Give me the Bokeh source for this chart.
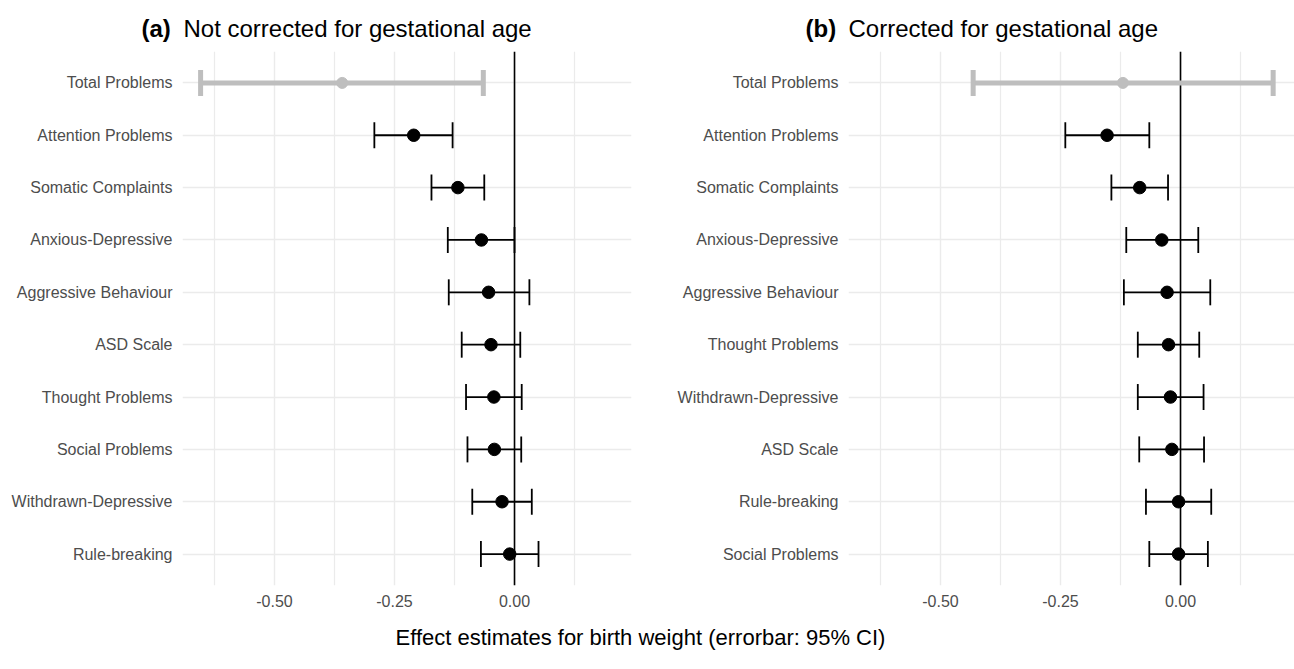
from bokeh.plotting import figure
from bokeh.models import (ColumnDataSource, FactorRange, Range1d, Span, Whisker, TeeHead,
                          FixedTicker, NumeralTickFormatter, Label)
from bokeh.layouts import row, column
from bokeh.embed import file_html
from bokeh.resources import INLINE

FONT = "Liberation Sans"

# ---------------- data ----------------
cats_a = ["Total Problems", "Attention Problems", "Somatic Complaints", "Anxious-Depressive",
          "Aggressive Behaviour", "ASD Scale", "Thought Problems", "Social Problems",
          "Withdrawn-Depressive", "Rule-breaking"]
est_a = [-0.359, -0.210, -0.118, -0.069, -0.054, -0.049, -0.043, -0.042, -0.026, -0.010]
lo_a = [-0.654, -0.292, -0.173, -0.139, -0.137, -0.110, -0.101, -0.098, -0.088, -0.070]
hi_a = [-0.065, -0.129, -0.063, 0.000, 0.031, 0.012, 0.015, 0.014, 0.036, 0.050]

cats_b = ["Total Problems", "Attention Problems", "Somatic Complaints", "Anxious-Depressive",
          "Aggressive Behaviour", "Thought Problems", "Withdrawn-Depressive", "ASD Scale",
          "Rule-breaking", "Social Problems"]
est_b = [-0.120, -0.153, -0.085, -0.039, -0.028, -0.025, -0.021, -0.018, -0.004, -0.004]
lo_b = [-0.432, -0.240, -0.144, -0.113, -0.118, -0.089, -0.089, -0.086, -0.072, -0.065]
hi_b = [0.193, -0.065, -0.026, 0.037, 0.062, 0.039, 0.048, 0.049, 0.064, 0.057]

highlight = "Total Problems"
x_ticks = [-0.5, -0.25, 0.0]
x_minor = [-0.625, -0.375, -0.125, 0.125]

tag_a, title_a = "(a)", "Not corrected for gestational age"
tag_b, title_b = "(b)", "Corrected for gestational age"
x_title = "Effect estimates for birth weight (errorbar: 95% CI)"

GREY_TXT = "#4d4d4d"
GRID = "#ebebeb"
HL = "#bebebe"

W, H = 1294, 669
TOP_H = 44
FRAME_H = 534
BORDER_TOP = 7
BORDER_BOTTOM = 30
BOTTOM_H = H - TOP_H - (BORDER_TOP + FRAME_H + BORDER_BOTTOM)
X0 = -0.6917
PX_PER_UNIT = 480.0


def split(cats, est, lo, hi, keep):
    d = dict(cat=[], est=[], lo=[], hi=[])
    for c, e, l, h in zip(cats, est, lo, hi):
        if (c == highlight) == keep:
            d["cat"].append(c); d["est"].append(e); d["lo"].append(l); d["hi"].append(h)
    return ColumnDataSource(d)


def panel(cats, est, lo, hi, width, b_left, b_right, frame_w):
    x1 = X0 + frame_w / PX_PER_UNIT
    p = figure(width=width, height=BORDER_TOP + FRAME_H + BORDER_BOTTOM, title=None,
               y_range=FactorRange(factors=list(reversed(cats)), range_padding=0.1,
                                   range_padding_units="absolute"),
               x_range=Range1d(X0, x1), toolbar_location=None, output_backend="svg",
               min_border_left=b_left, min_border_right=b_right,
               min_border_top=BORDER_TOP, min_border_bottom=BORDER_BOTTOM)
    p.outline_line_color = None
    p.background_fill_color = "white"
    p.border_fill_color = "white"

    # grids
    p.xgrid.ticker = FixedTicker(ticks=x_ticks, minor_ticks=x_minor)
    p.xgrid.grid_line_color = GRID
    p.xgrid.grid_line_width = 1.4
    p.xgrid.minor_grid_line_color = GRID
    p.xgrid.minor_grid_line_width = 1.2
    p.ygrid.grid_line_color = GRID
    p.ygrid.grid_line_width = 1.4

    # axes
    p.xaxis.ticker = FixedTicker(ticks=x_ticks)
    p.xaxis.formatter = NumeralTickFormatter(format="0.00")
    for ax in (p.xaxis[0], p.yaxis[0]):
        ax.axis_line_color = None
        ax.major_tick_line_color = None
        ax.minor_tick_line_color = None
        ax.major_tick_out = 0
        ax.major_tick_in = 0
        ax.major_label_text_font = FONT
        ax.major_label_text_font_size = "16px"
        ax.major_label_text_color = GREY_TXT
    p.xaxis.major_label_standoff = 9
    p.yaxis.major_label_standoff = 10

    # zero line
    p.add_layout(Span(location=0, dimension="height", line_color="black",
                      line_width=1.6, level="underlay"))

    src_main = split(cats, est, lo, hi, False)
    src_hl = split(cats, est, lo, hi, True)

    w_hl = Whisker(base="cat", lower="lo", upper="hi", dimension="width", source=src_hl,
                   line_color=HL, line_width=5, level="glyph",
                   lower_head=TeeHead(size=26, line_color=HL, line_width=5),
                   upper_head=TeeHead(size=26, line_color=HL, line_width=5))
    w_main = Whisker(base="cat", lower="lo", upper="hi", dimension="width", source=src_main,
                     line_color="black", line_width=1.8, level="glyph",
                     lower_head=TeeHead(size=26, line_color="black", line_width=1.8),
                     upper_head=TeeHead(size=26, line_color="black", line_width=1.8))
    p.add_layout(w_hl)
    p.add_layout(w_main)

    p.scatter(x="est", y="cat", source=src_hl, size=11, color=HL)
    p.scatter(x="est", y="cat", source=src_main, size=12.5, color="black")
    return p


def text_strip(height):
    f = figure(width=W, height=height, x_range=Range1d(0, W), y_range=Range1d(0, height),
               toolbar_location=None, output_backend="svg", x_axis_type=None,
               y_axis_type=None, min_border=0, title=None)
    f.outline_line_color = None
    f.xgrid.visible = False
    f.ygrid.visible = False
    f.background_fill_color = "white"
    f.border_fill_color = "white"
    return f


# panel titles strip
ptop = text_strip(TOP_H)
for xx, txt, style in [(141, tag_a, "bold"), (183, title_a, "normal"),
                       (805, tag_b, "bold"), (848, title_b, "normal")]:
    ptop.add_layout(Label(x=xx, y=TOP_H - 28, text=txt, text_font=FONT,
                          text_font_style=style, text_font_size="24px",
                          text_color="black", text_baseline="middle",
                          text_align="left"))

p1 = panel(cats_a, est_a, lo_a, hi_a, width=660, b_left=182, b_right=29, frame_w=449)
p2 = panel(cats_b, est_b, lo_b, hi_b, width=W - 660, b_left=188, b_right=0,
           frame_w=W - 660 - 188)

# shared x-axis title strip
pbot = text_strip(BOTTOM_H)
pbot.add_layout(Label(x=640, y=BOTTOM_H - 22, text=x_title, text_font=FONT,
                      text_font_size="22px", text_color="black", text_align="center",
                      text_baseline="middle"))

layout = column(ptop, row(p1, p2), pbot)

with open("out.html", "w") as f:
    f.write(file_html(layout, INLINE))
